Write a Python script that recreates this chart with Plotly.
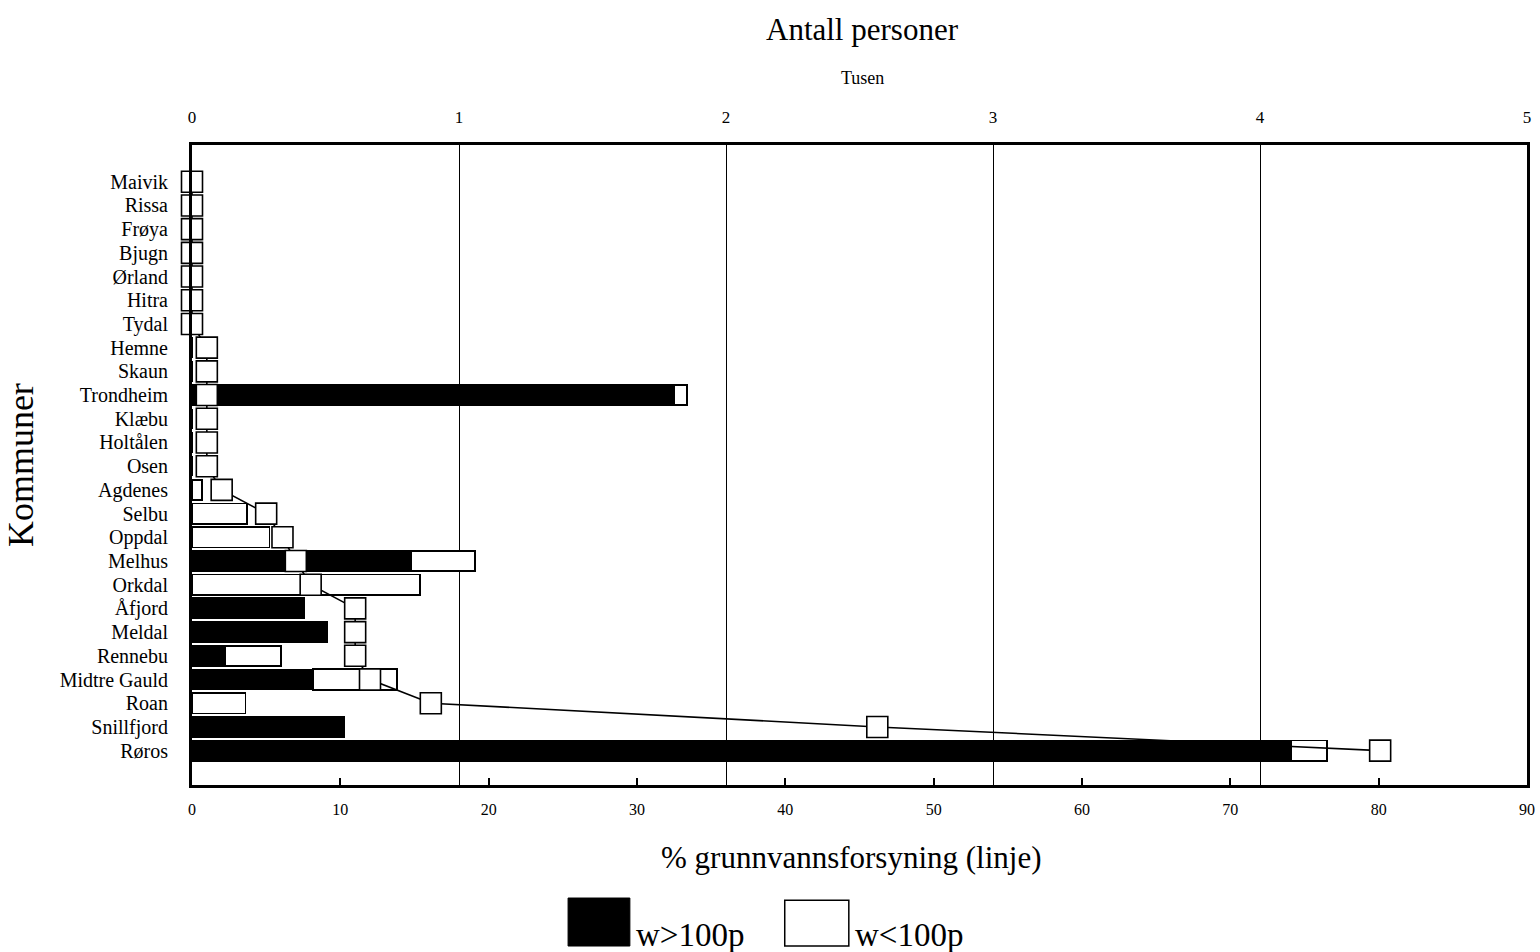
import plotly.graph_objects as go

kommuner = ["Maivik", "Rissa", "Frøya", "Bjugn", "Ørland", "Hitra", "Tydal",
            "Hemne", "Skaun", "Trondheim", "Klæbu", "Holtålen", "Osen",
            "Agdenes", "Selbu", "Oppdal", "Melhus", "Orkdal", "Åfjord",
            "Meldal", "Rennebu", "Midtre Gauld", "Roan", "Snillfjord", "Røros"]

# Antall personer (tusen)
w_over_100 = [0, 0, 0, 0, 0, 0, 0, 0, 0, 1.805, 0, 0, 0,
              0, 0, 0, 0.82, 0, 0.42, 0.506, 0.124, 0.453, 0, 0.57, 4.116]
w_under_100 = [0, 0, 0, 0, 0, 0, 0, 0, 0, 0.05, 0, 0, 0,
               0.037, 0.206, 0.29, 0.24, 0.854, 0, 0, 0.21, 0.315, 0.2, 0, 0.135]

# % grunnvannsforsyning (linje)
pct_grunnvann = [0, 0, 0, 0, 0, 0, 0, 1.0, 1.0, 1.0, 1.0, 1.0, 1.0,
                 2.0, 5.0, 6.1, 7.0, 8.0, 11.0, 11.0, 11.0, 12.0, 16.1, 46.2, 80.1]

top_ticks = [0, 1, 2, 3, 4, 5]
bottom_ticks = [0, 10, 20, 30, 40, 50, 60, 70, 80, 90]

SERIF = "Liberation Serif, Times New Roman, serif"

fig = go.Figure()

fig.add_trace(go.Bar(
    y=kommuner, x=w_over_100, orientation="h", name="w>100p",
    marker=dict(color="black", line=dict(color="black", width=1.5)),
    xaxis="x", yaxis="y", showlegend=False))
fig.add_trace(go.Bar(
    y=kommuner, x=w_under_100, orientation="h", name="w<100p",
    marker=dict(color="white", line=dict(color="black", width=1.8)),
    xaxis="x", yaxis="y", showlegend=False))

fig.add_trace(go.Scatter(
    y=kommuner, x=pct_grunnvann, mode="lines+markers", name="% grunnvann",
    line=dict(color="black", width=1.6),
    marker=dict(symbol="square", size=21, color="white",
                line=dict(color="black", width=1.6)),
    cliponaxis=False,
    xaxis="x2", yaxis="y", showlegend=False))

fig.update_layout(
    width=1540, height=952,
    margin=dict(l=192, r=13, t=145, b=167, pad=0),
    paper_bgcolor="white", plot_bgcolor="white",
    barmode="stack", bargap=0.14,
    font=dict(family=SERIF, color="black"),
    xaxis=dict(
        side="top", range=[0, 5], tickvals=top_ticks,
        ticktext=[str(t) for t in top_ticks],
        showgrid=True, gridcolor="black", gridwidth=1.3,
        zeroline=False, showline=True, linecolor="black", linewidth=3,
        ticks="", tickfont=dict(size=17, family=SERIF),
        ticklabelstandoff=12, anchor="y", automargin=False, fixedrange=True),
    xaxis2=dict(
        overlaying="x", side="bottom", range=[0, 90], tickvals=bottom_ticks,
        ticktext=[str(t) for t in bottom_ticks],
        showgrid=False, zeroline=False, showline=True, linecolor="black",
        linewidth=2.5, ticks="inside", ticklen=7, tickwidth=1.5, tickcolor="black",
        tickfont=dict(size=16, family=SERIF), ticklabelstandoff=8,
        anchor="y", automargin=False, fixedrange=True),
    yaxis=dict(
        type="category", categoryorder="array", categoryarray=kommuner,
        tickmode="array", tickvals=kommuner, ticktext=kommuner,
        range=[24 + 1.45, -1.55], showgrid=False, zeroline=False,
        showline=True, linecolor="black", linewidth=3, mirror=True,
        ticks="", tickfont=dict(size=20, family=SERIF),
        ticklabelstandoff=17, automargin=False, fixedrange=True),
)

annotations = [
    dict(text="Antall personer", x=0.502, y=1.18, xref="paper", yref="paper",
         showarrow=False, font=dict(size=31, family=SERIF), xanchor="center", yanchor="middle"),
    dict(text="Tusen", x=0.502, y=1.105, xref="paper", yref="paper",
         showarrow=False, font=dict(size=18, family=SERIF), xanchor="center", yanchor="middle"),
    dict(text="% grunnvannsforsyning (linje)", x=0.494, y=-0.114, xref="paper", yref="paper",
         showarrow=False, font=dict(size=31, family=SERIF), xanchor="center", yanchor="middle"),
    dict(text="Kommuner", x=-0.128, y=0.5, xref="paper", yref="paper", textangle=-90,
         showarrow=False, font=dict(size=36, family=SERIF), xanchor="center", yanchor="middle"),
    dict(text="w>100p", x=0.331, y=-0.234, xref="paper", yref="paper",
         showarrow=False, font=dict(size=33, family=SERIF), xanchor="left", yanchor="middle"),
    dict(text="w<100p", x=0.495, y=-0.234, xref="paper", yref="paper",
         showarrow=False, font=dict(size=33, family=SERIF), xanchor="left", yanchor="middle"),
]
fig.update_layout(annotations=annotations)

shapes = [
    dict(type="rect", xref="paper", yref="paper", x0=0.2817, x1=0.328, y0=-0.2516, y1=-0.1766,
         fillcolor="black", line=dict(color="black", width=1)),
    dict(type="rect", xref="paper", yref="paper", x0=0.444, x1=0.492, y0=-0.2516, y1=-0.18,
         fillcolor="white", line=dict(color="black", width=1.5)),
]
fig.update_layout(shapes=shapes)

fig.write_html("out.html", config={"displayModeBar": False},
               post_script="document.body.style.margin='0';")
